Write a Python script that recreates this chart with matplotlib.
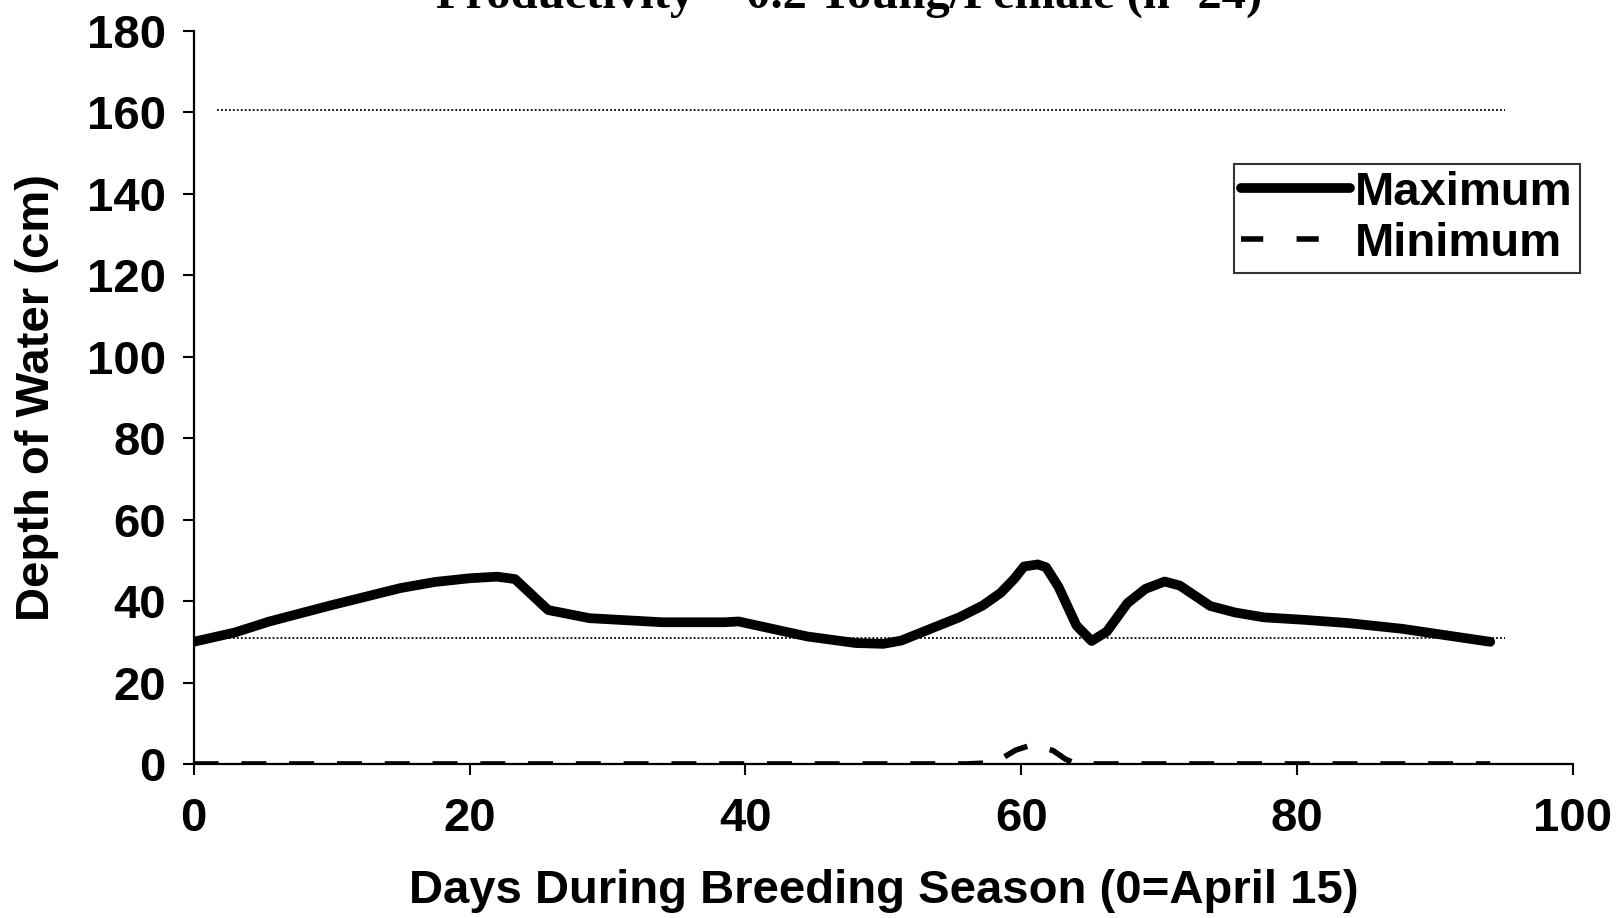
import matplotlib.pyplot as plt

# values
days_max = [0, 3, 5.5, 10, 15, 17.5, 20, 22, 23.3, 25.7, 28.7, 34, 38.5, 39.5,
            44.5, 48, 50, 51.3, 53.5, 55.5, 57.2, 58.5, 59.5, 60.2, 61.2, 61.8,
            62.7, 64, 65.1, 66.2, 67.7, 69, 70.4, 71.5, 73.7, 75.5, 77.6, 80.5,
            83.7, 87.6, 91, 94]
depth_max = [30, 32.3, 35, 39, 43.2, 44.7, 45.6, 46, 45.4, 37.8, 35.8, 34.8,
             34.8, 35, 31.3, 29.7, 29.5, 30.3, 33.3, 36, 38.9, 42, 45.5, 48.5,
             49, 48.3, 43.5, 34, 30.2, 32.5, 39.5, 43, 44.8, 43.8, 38.8, 37.2,
             36, 35.4, 34.6, 33.2, 31.5, 30]

days_min = [0, 20, 40, 56, 57.3, 58.5, 59.6, 60.5, 61.5, 62.3, 63.2, 64, 80, 94]
depth_min = [0, 0, 0, 0, 0.2, 1.2, 3.4, 4.4, 4.0, 3.3, 1.2, 0, 0, 0]

ref_days = [1.7, 95.1]
ref_upper = 160.5
ref_lower = 31

x_ticks = [0, 20, 40, 60, 80, 100]
y_ticks = [0, 20, 40, 60, 80, 100, 120, 140, 160, 180]

plt.rcParams['font.family'] = ['Liberation Sans', 'DejaVu Sans']

fig = plt.figure(figsize=(16.23, 9.18), dpi=100)
ax = fig.add_axes([0.1193, 0.1678, 0.8499, 0.7984])

ax.plot(ref_days, [ref_upper, ref_upper], color='black', lw=1.3, ls=(0, (1, 1.2)))
ax.plot(ref_days, [ref_lower, ref_lower], color='black', lw=1.3, ls=(0, (1, 1.2)))

ax.plot(days_max, depth_max, color='black', lw=7, solid_joinstyle='round',
        solid_capstyle='round', label='Maximum')
ax.plot(days_min, depth_min, color='black', lw=4, ls=(0, (4.5, 4.1)),
        label='Minimum')

ax.set_xlim(0, 100)
ax.set_ylim(0, 180)
ax.set_xticks(x_ticks)
ax.set_yticks(y_ticks)
for s in ['top', 'right']:
    ax.spines[s].set_visible(False)
for s in ['left', 'bottom']:
    ax.spines[s].set_linewidth(1.6)
ax.tick_params(axis='both', direction='out', length=8, width=1.5,
               labelsize=34)
ax.tick_params(axis='x', pad=16)
ax.tick_params(axis='y', pad=12)
for lab in ax.get_xticklabels() + ax.get_yticklabels():
    lab.set_fontweight('bold')

ax.set_xlabel('Days During Breeding Season (0=April 15)', fontsize=34,
              fontweight='bold', labelpad=20)
ax.set_ylabel('Depth of Water (cm)', fontsize=34, fontweight='bold',
              labelpad=20)

leg = ax.legend(loc='upper right', bbox_to_anchor=(1.005, 0.819),
                prop={'weight': 'bold', 'size': 34},
                frameon=True, fancybox=False, handlelength=2.3,
                handletextpad=0.12, borderpad=0.15, labelspacing=0.15,
                borderaxespad=0)
leg.get_frame().set_edgecolor('black')
leg.get_frame().set_linewidth(1.5)
# legend shows two short dashes for the minimum
leg.get_lines()[1].set_linestyle((0, (4, 6)))

# title is cut off at the top edge in the reference
fig.text(0.523, 1 - 8 / 918, 'Productivity = 0.2 Young/Female (n=24)',
         fontsize=35, family='Liberation Serif', fontweight='bold',
         ha='center', va='baseline')

fig.savefig('out.png', dpi=100)
